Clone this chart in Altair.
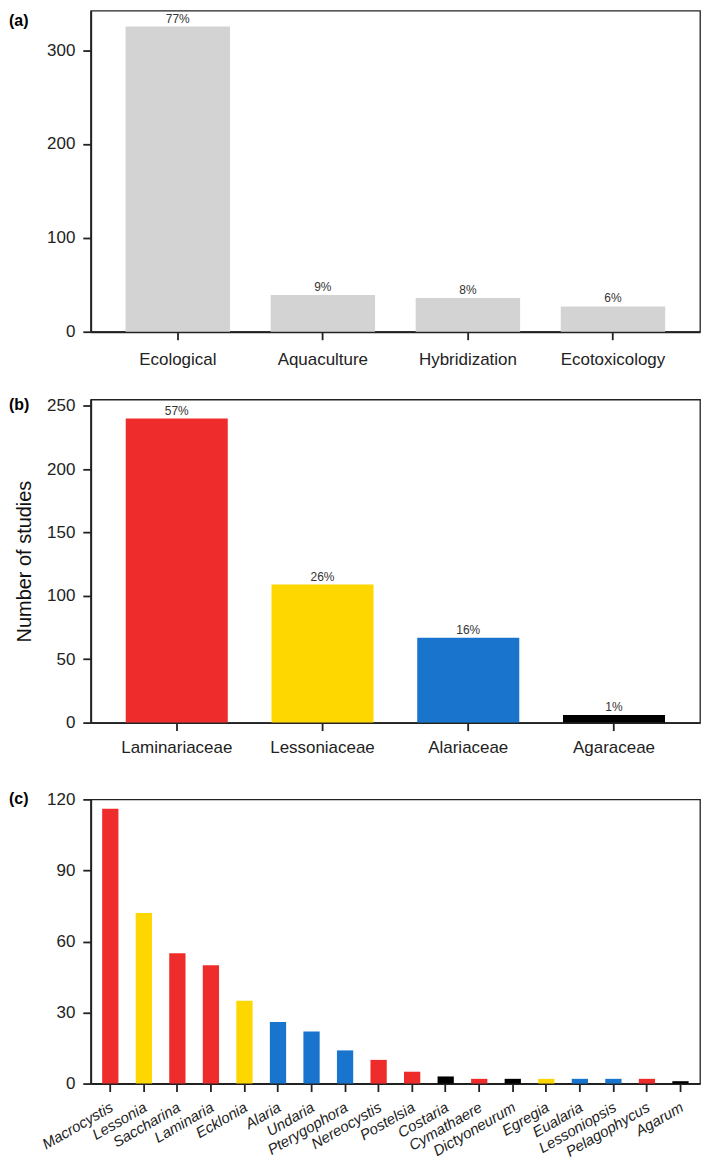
import altair as alt
import pandas as pd

# ---------------- data ----------------
a_categories = ["Ecological", "Aquaculture", "Hybridization", "Ecotoxicology"]
a_counts = [325, 39, 36, 27]
a_pct = ["77%", "9%", "8%", "6%"]

b_families = ["Laminariaceae", "Lessoniaceae", "Alariaceae", "Agaraceae"]
b_counts = [240, 109, 67, 6]
b_pct = ["57%", "26%", "16%", "1%"]

c_genera = ["Macrocystis", "Lessonia", "Saccharina", "Laminaria", "Ecklonia",
            "Alaria", "Undaria", "Pterygophora", "Nereocystis", "Postelsia",
            "Costaria", "Cymathaere", "Dictyoneurum", "Egregia", "Eualaria",
            "Lessoniopsis", "Pelagophycus", "Agarum"]
c_counts = [116, 72, 55, 50, 35, 26, 22, 14, 10, 5, 3, 2, 2, 2, 2, 2, 2, 1]
c_family = ["Laminariaceae", "Lessoniaceae", "Laminariaceae", "Laminariaceae",
            "Lessoniaceae", "Alariaceae", "Alariaceae", "Alariaceae",
            "Laminariaceae", "Laminariaceae", "Agaraceae", "Laminariaceae",
            "Agaraceae", "Lessoniaceae", "Alariaceae", "Alariaceae",
            "Laminariaceae", "Agaraceae"]

family_colors = ["#EE2C2C", "#FFD700", "#1874CD", "#000000"]
bar_gray = "#D3D3D3"

FONT = "Liberation Sans"
INK = "#222222"
W = 611
LABEL_X = -82

color_scale = alt.Scale(domain=b_families, range=family_colors)


def panel_label(txt, yoff):
    return alt.Chart(pd.DataFrame({"t": [txt]})).mark_text(
        align="left", baseline="middle", font=FONT, fontSize=16,
        fontWeight="bold", color="#000000"
    ).encode(x=alt.value(LABEL_X), y=alt.value(yoff), text="t:N")


def pct_text(df, xfield, order):
    return alt.Chart(df).mark_text(
        baseline="alphabetic", dy=-4, font=FONT, fontSize=12, color="#333333"
    ).encode(x=alt.X(f"{xfield}:N", sort=order), y="n:Q", text="pct:N")


# ---------------- panel (a) ----------------
dfa = pd.DataFrame({"cat": a_categories, "n": a_counts, "pct": a_pct})
bars_a = alt.Chart(dfa).mark_bar(color=bar_gray).encode(
    x=alt.X("cat:N", sort=a_categories, title=None,
            scale=alt.Scale(paddingInner=0.28, paddingOuter=0.24),
            axis=alt.Axis(labelAngle=0, labelPadding=12)),
    y=alt.Y("n:Q", title=None,
            scale=alt.Scale(domain=[0, 342], nice=False),
            axis=alt.Axis(values=[0, 100, 200, 300])),
)
chart_a = alt.layer(bars_a, pct_text(dfa, "cat", a_categories),
                    panel_label("(a)", 10)).properties(width=W, height=322)

# ---------------- panel (b) ----------------
dfb = pd.DataFrame({"fam": b_families, "n": b_counts, "pct": b_pct})
bars_b = alt.Chart(dfb).mark_bar().encode(
    x=alt.X("fam:N", sort=b_families, title=None,
            scale=alt.Scale(paddingInner=0.3, paddingOuter=0.24),
            axis=alt.Axis(labelAngle=0, labelPadding=9)),
    y=alt.Y("n:Q", title="Number of studies",
            scale=alt.Scale(domain=[0, 255], nice=False),
            axis=alt.Axis(values=[0, 50, 100, 150, 200, 250],
                          titleFont=FONT, titleFontSize=20,
                          titleFontWeight="normal", titleColor="#111111",
                          titlePadding=12)),
    color=alt.Color("fam:N", scale=color_scale, legend=None),
)
chart_b = alt.layer(bars_b, pct_text(dfb, "fam", b_families),
                    panel_label("(b)", 5)).properties(width=W, height=324)

# ---------------- panel (c) ----------------
dfc = pd.DataFrame({"genus": c_genera, "n": c_counts, "fam": c_family})
bars_c = alt.Chart(dfc).mark_bar().encode(
    x=alt.X("genus:N", sort=c_genera, title=None,
            scale=alt.Scale(paddingInner=0.515, paddingOuter=0.34),
            axis=alt.Axis(labelAngle=-30, labelAlign="right",
                          labelBaseline="top", labelFontStyle="italic",
                          labelFontSize=15, labelPadding=8, labelOffset=-2)),
    y=alt.Y("n:Q", title=None,
            scale=alt.Scale(domain=[0, 120], nice=False),
            axis=alt.Axis(values=[0, 30, 60, 90, 120])),
    color=alt.Color("fam:N", scale=color_scale, legend=None),
)
chart_c = alt.layer(bars_c, panel_label("(c)", 0)).properties(width=W, height=285)

chart = alt.vconcat(
    alt.vconcat(chart_a, chart_b, spacing=27),
    chart_c,
    spacing=33,
).properties(
    padding=0
).configure_view(
    stroke=INK, strokeWidth=1.3
).configure_axis(
    grid=False,
    domainColor=INK, domainWidth=1.8,
    tickColor=INK, tickWidth=1.8, tickSize=8,
    labelFont=FONT, labelFontSize=17, labelColor=INK,
    labelPadding=8,
)

chart.save("out.html", embed_options={"renderer": "svg", "actions": False})
